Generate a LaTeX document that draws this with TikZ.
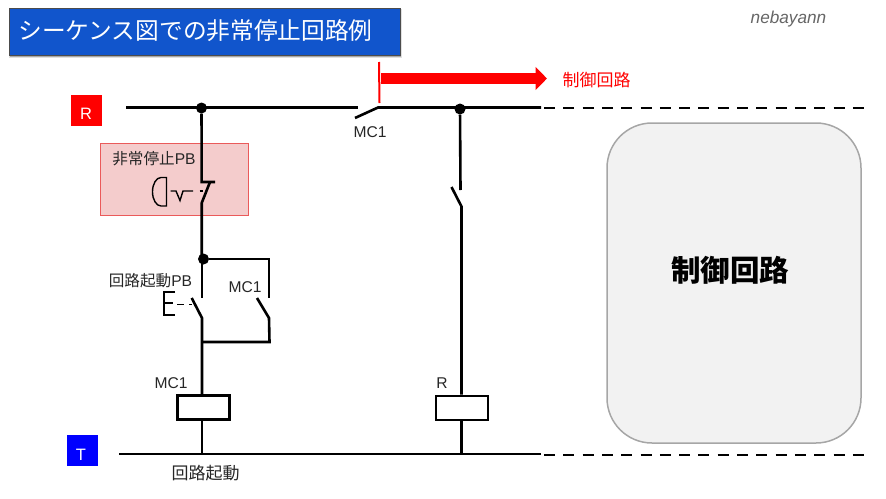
\documentclass[tikz,border=0pt]{standalone}
\usepackage{fontspec}
\setmainfont{Liberation Sans}
\newfontfamily\cjk{Noto Sans CJK JP}
\usetikzlibrary{arrows.meta}
\definecolor{titleblue}{HTML}{1155CC}
\definecolor{stoppink}{HTML}{F4CCCC}
\definecolor{stopedge}{HTML}{EA5A5A}
\definecolor{ctrlfill}{HTML}{F2F2F2}
\definecolor{ctrledge}{HTML}{A6A6A6}
\definecolor{markblue}{HTML}{0000FF}
\tikzset{
  wire/.style={black,line width=2.6pt},
  thinwire/.style={black,line width=1.4pt},
  busdash/.style={black,line width=2.6pt,dash pattern=on 11pt off 8.3pt},
  junction/.style={circle,fill=black,inner sep=0pt,minimum size=11pt},
  coilbox/.style={draw=black,line width=2.6pt,fill=white,inner sep=0pt,minimum width=52pt,minimum height=24pt},
  busmark/.style={inner sep=0pt,minimum size=31pt},
  marktext/.style={inner sep=0pt,text=white,font=\fontsize{16.5}{17}\selectfont},
  lbl/.style={inner sep=0pt,text=black!85,font=\fontsize{15.6}{16}\selectfont},
  lblcjk/.style={inner sep=0pt,text=black!85,font=\fontsize{17}{18}\selectfont\cjk}
}
\begin{document}
\begin{tikzpicture}[x=1pt,y=-1pt]
  \useasboundingbox (0,0) rectangle (886,498);
  \node [fill=black,opacity=.12,inner sep=0pt,minimum width=393pt,minimum height=49pt] (titleblur) at (205.5,33.5) {};
  \node [fill=black,opacity=.25,inner sep=0pt,minimum width=391pt,minimum height=47pt] (titleshade) at (205.5,33.5) {};
  \node [draw=black!70,fill=titleblue,inner sep=0pt,minimum width=391pt,minimum height=47pt] (title) at (204.5,31.5) {};
  \node [inner sep=0pt,text=white,font=\fontsize{23.7}{24}\selectfont\cjk] (titletext) at (195.5,31) {シーケンス図での非常停止回路例};
  \node [inner sep=0pt,text=black!60,font=\fontsize{17.2}{18}\itshape] (sign) at (788.5,19) {nebayann};

  \node [draw=stopedge,line width=1pt,fill=stoppink,inner sep=0pt,minimum width=148pt,minimum height=72pt] (stopbox) at (174.7,179) {};
  \node [draw=ctrledge,line width=1.5pt,fill=ctrlfill,inner sep=0pt,rounded corners=45pt,minimum width=254pt,minimum height=320pt] (ctrlbox) at (734,283) {};

  \node [busmark,fill=red] (markR) at (86.5,110.5) {};
  \node [marktext] (markRtext) at (86,113.5) {R};
  \node [busmark,fill=markblue] (markT) at (82.5,450.5) {};
  \node [marktext] (markTtext) at (81,454.5) {T};

  \coordinate (Rstart) at (126,107.5);
  \coordinate (Rbreak) at (358,107.5);
  \coordinate (mcfree) at (355,118);
  \coordinate (mchinge) at (378,107.5);
  \coordinate (Rend) at (541,107.5);
  \coordinate (Rdash) at (544,108);
  \coordinate (Rdashend) at (864,108);
  \coordinate (Tstart) at (119,454);
  \coordinate (Tend) at (541,454);
  \coordinate (Tdash) at (544,455);
  \coordinate (Tdashend) at (864,455);

  \node [junction] (dotR) at (201.5,108) {};
  \node [junction] (dotC) at (460,109) {};
  \node [junction] (dotM) at (203.5,259) {};

  \draw [wire] (Rstart) -- (Rbreak);
  \draw [wire] (mcfree) -- (mchinge) -- (Rend);
  \draw [busdash] (Rdash) -- (Rdashend);
  \draw [wire] (Tstart) -- (Tend);
  \draw [busdash] (Tdash) -- (Tdashend);

  \coordinate (stoptop) at (201.7,182);
  \coordinate (stopbar) at (215,182);
  \coordinate (stoparm) at (210,182);
  \coordinate (stoplow) at (201.7,203);
  \draw [wire] (dotR) -- (stoptop) -- (stopbar);
  \draw [wire] (stoparm) -- (stoplow) -- (dotM.center -| stoplow);

  \coordinate (nextop) at (202,298);
  \coordinate (startfree) at (191.7,298);
  \coordinate (starthinge) at (202,318);
  \node [coilbox] (coilMC) at (203.5,407.5) {};
  \coordinate (tapMC) at (202,342);
  \draw [wire] (dotM.center -| nextop) -- (nextop);
  \draw [wire] (startfree) -- (starthinge) -- (starthinge |- coilMC.north);
  \draw [wire] (starthinge |- coilMC.south) -- (starthinge |- Tend);

  \coordinate (holdtop) at (269,259);
  \coordinate (holdup) at (269,298);
  \coordinate (holdfree) at (257,298);
  \coordinate (holdhinge) at (269,318);
  \coordinate (holdlow) at (269.5,342);
  \draw [wire] (dotM) -- (holdtop) -- (holdup);
  \draw [wire] (holdfree) -- (holdhinge) -- (holdlow) -- (tapMC);

  \coordinate (relayup) at (460.5,190);
  \coordinate (relayfree) at (451.5,187);
  \coordinate (relayhinge) at (461.5,206.5);
  \node [coilbox] (coilR) at (462,408) {};
  \draw [wire] (dotC) -- (relayup);
  \draw [wire] (relayfree) -- (relayhinge) -- (relayhinge |- coilR.north);
  \draw [wire] (relayhinge |- coilR.south) -- (relayhinge |- Tend);

  \draw [thinwire] (166.5,177.5) -- (161,177.5) arc (270:90:8.5 and 14.25) -- (166.5,206) -- cycle;
  \draw [thinwire] (170.5,191) -- (176,191) -- (180,200.5) -- (183,191) -- (193,191);
  \draw [thinwire] (199.5,191) -- (203,191);

  \draw [thinwire] (175,292) -- (164,292) -- (164,315) -- (175,315);
  \draw [thinwire] (164,303) -- (173,303);
  \draw [thinwire] (177,304.5) -- (184,304.5);
  \draw [thinwire] (189,304.5) -- (192,304.5);

  \coordinate (cutT) at (379,62);
  \coordinate (cutB) at (379.5,103);
  \coordinate (flowS) at (381,78.5);
  \coordinate (flowE) at (547,78.5);
  \draw [red,line width=2pt] (cutT) -- (cutB);
  \draw [red,line width=11.5pt,-{Triangle[length=11.5pt,width=22.5pt]}] (flowS) -- (flowE);

  \node [lbl] (labstop) at (154,159) {{\cjk 非常停止}PB};
  \node [lbl] (labstart) at (150.5,281) {{\cjk 回路起動}PB};
  \node [lbl] (labhold) at (245,287) {MC1};
  \node [lbl] (labcut) at (370,132) {MC1};
  \node [lbl] (labcoilMC) at (171,383) {MC1};
  \node [lbl] (labcoilR) at (442,383) {R};
  \node [lblcjk] (labrun) at (205.5,473) {回路起動};
  \node [lblcjk,text=red] (labflow) at (596.5,80) {制御回路};
  \node [inner sep=0pt,font=\fontsize{29.5}{30}\selectfont\cjk\bfseries] (labctrl) at (730,270) {制御回路};
\end{tikzpicture}
\end{document}
